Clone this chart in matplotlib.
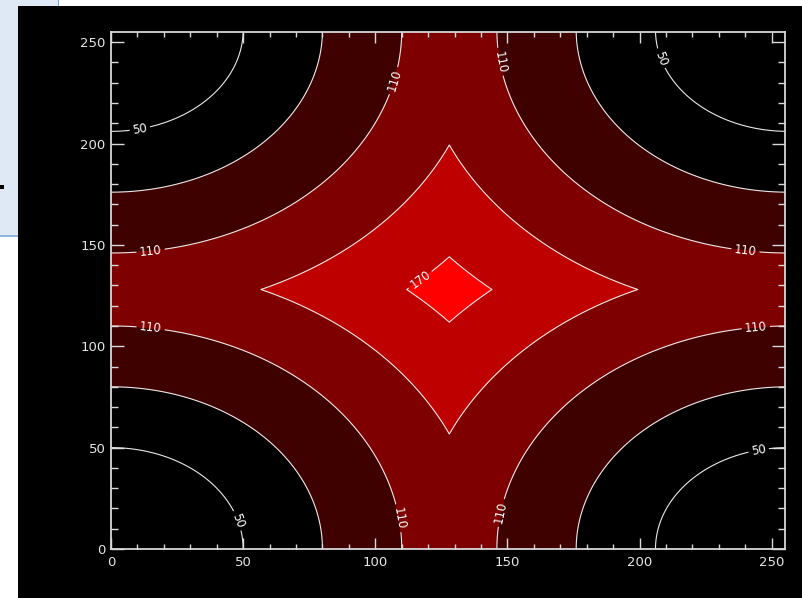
import numpy as np
import matplotlib
matplotlib.use("Agg")
import matplotlib.pyplot as plt
from matplotlib.patches import Rectangle
from matplotlib.ticker import MultipleLocator

# ---- data: IDL DIST(256) field (distance to nearest corner) ----
grid_n = 256
idx = np.arange(grid_n)
fold = np.minimum(idx, grid_n - idx)
field = np.hypot(fold[None, :], fold[:, None])

line_levels = [50, 80, 110, 140, 170]
fill_levels = [0, 50, 80, 110, 140, 170, 182]
fill_colors = ["#000000", "#000000", "#3f0000", "#7f0000", "#bf0000", "#ff0000"]
labeled_levels = [50, 110, 170]
unlabeled_levels = [lv for lv in line_levels if lv not in labeled_levels]
label_spots = [(48, 14), (11, 207), (208, 242), (245, 49),
               (107, 231), (146, 240), (15, 147), (240, 147),
               (15, 109), (244, 109), (108, 15), (147, 18),
               (118, 131)]
x_ticks = [0, 50, 100, 150, 200, 250]
y_ticks = [0, 50, 100, 150, 200, 250]

W, H = 802, 598
fig = plt.figure(figsize=(W / 100, H / 100), dpi=100, facecolor="white")


def rect(x0, y0, x1, y1, **kw):
    fig.add_artist(Rectangle((x0 / W, 1 - y1 / H), (x1 - x0) / W, (y1 - y0) / H,
                             transform=fig.transFigure, zorder=-10, **kw))


# background pieces of the screenshot
rect(18, 6, W, H, facecolor="black", edgecolor="none")
rect(0, 0, 18, 236, facecolor="#dee9f5", edgecolor="none")
rect(18, 0, 58, 6, facecolor="#dee9f5", edgecolor="none")
rect(0, 235, 18, 237, facecolor="#8fb6de", edgecolor="none")
rect(57.5, 0, 59, 6, facecolor="#6a9fd8", edgecolor="none")
rect(0, 185, 4, 189, facecolor="black", edgecolor="none")

ax = fig.add_axes([111 / W, 1 - 549 / H, 674 / W, 517 / H])
ax.set_zorder(5)
ax.set_facecolor("black")

ax.contourf(idx, idx, field, levels=fill_levels, colors=fill_colors)
ax.contour(idx, idx, field, levels=unlabeled_levels, colors="#e8e8e8",
           linewidths=0.8)
cs = ax.contour(idx, idx, field, levels=labeled_levels, colors="#e8e8e8",
                linewidths=0.8)
ax.clabel(cs, inline=True, fontsize=8.5, fmt="%d",
          colors="white", manual=label_spots, inline_spacing=3)

ax.set_xlim(0, 255)
ax.set_ylim(0, 255)
ax.set_xticks(x_ticks)
ax.set_yticks(y_ticks)
ax.xaxis.set_minor_locator(MultipleLocator(10))
ax.yaxis.set_minor_locator(MultipleLocator(10))

axcol = "#d8d8d8"
for s in ax.spines.values():
    s.set_color(axcol)
    s.set_linewidth(1.3)

ax.tick_params(axis="both", which="both", direction="in", top=True, right=True,
               colors=axcol, width=1.0, labelcolor="#e6e6e6", labelsize=9.5)
ax.tick_params(axis="x", which="major", length=7.6, pad=5)
ax.tick_params(axis="x", which="minor", length=3.8)
ax.tick_params(axis="y", which="major", length=9.7, pad=4)
ax.tick_params(axis="y", which="minor", length=4.9)

fig.savefig("out.png", dpi=100, facecolor="white")
